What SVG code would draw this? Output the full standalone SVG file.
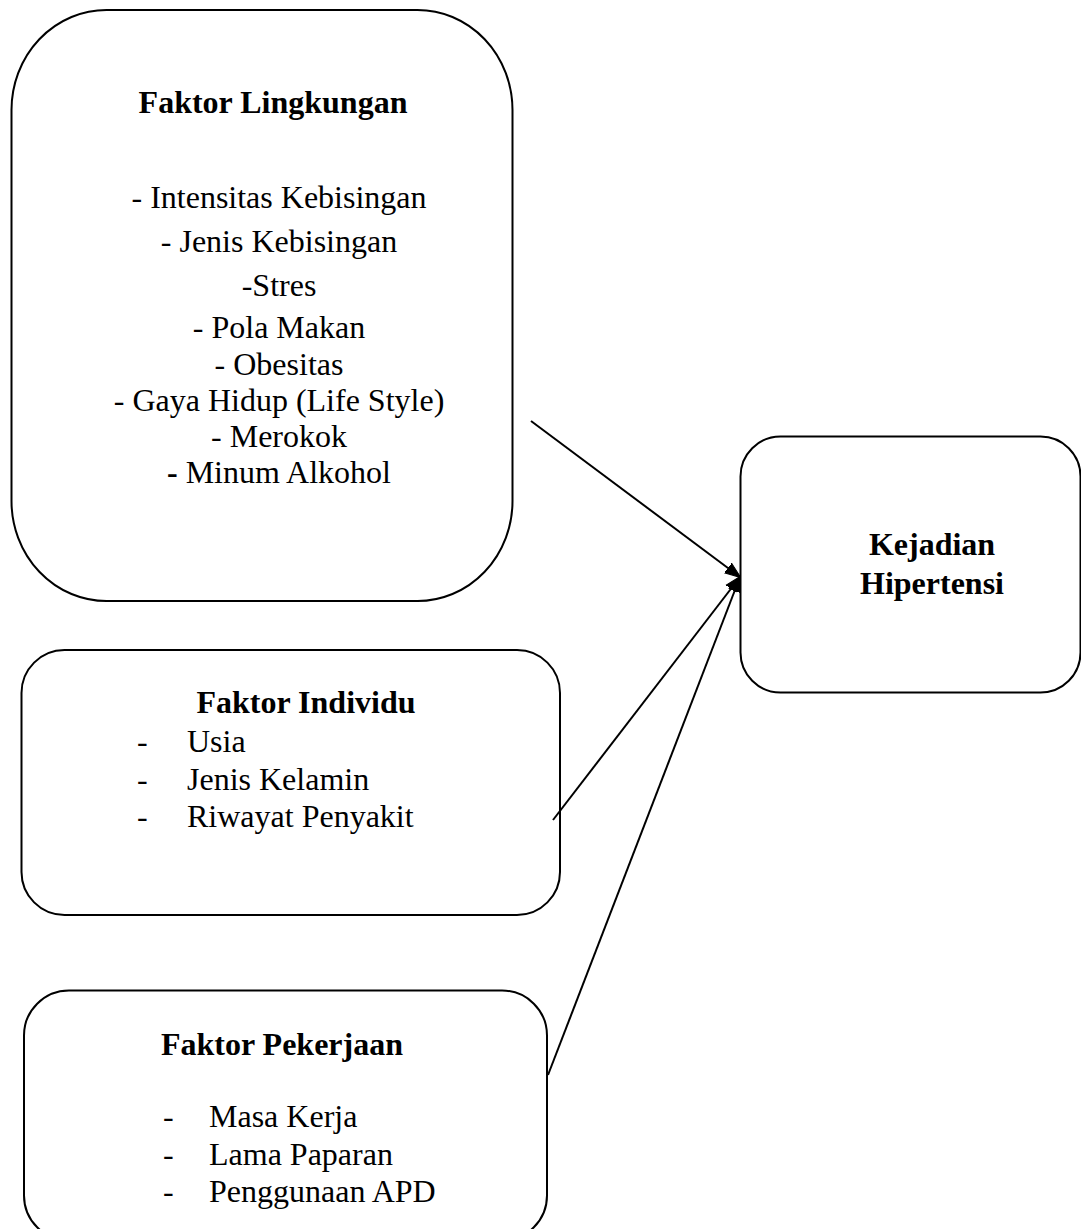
<svg xmlns="http://www.w3.org/2000/svg" width="1081" height="1229" viewBox="0 0 1081 1229">
<defs>
<style>
.box{fill:#fff;stroke:#000;stroke-width:2}
.t{font-family:"Liberation Serif","Times New Roman",serif;font-size:32px;fill:#000}
.b{font-weight:bold}
.c{text-anchor:middle}
.conn{stroke:#000;stroke-width:2;fill:none}
</style>
<marker id="ah" markerWidth="16" markerHeight="14" refX="15" refY="7" orient="auto" markerUnits="userSpaceOnUse">
<path d="M0,1 L16,7 L0,13 Z" fill="#000" stroke="#000" stroke-width="1"/>
</marker>
</defs>
<rect width="1081" height="1229" fill="#fff"/>
<g id="faktor-lingkungan">
<rect class="box" x="11.5" y="10" width="501" height="591" rx="95" ry="100"/>
<text class="t b c" x="273" y="113">Faktor Lingkungan</text>
<text class="t c" x="279" y="208">- Intensitas Kebisingan</text>
<text class="t c" x="279" y="252">- Jenis Kebisingan</text>
<text class="t c" x="279" y="296">-Stres</text>
<text class="t c" x="279" y="338">- Pola Makan</text>
<text class="t c" x="279" y="375">- Obesitas</text>
<text class="t c" x="279" y="411">- Gaya Hidup (Life Style)</text>
<text class="t c" x="279" y="447">- Merokok</text>
<text class="t c" x="279" y="483"><tspan class="b">-</tspan> Minum Alkohol</text>
</g>
<g id="faktor-individu">
<rect class="box" x="21.5" y="650" width="538.5" height="265" rx="43" ry="43"/>
<text class="t b c" x="306" y="713">Faktor Individu</text>
<text class="t" x="137" y="752">-</text>
<text class="t" x="187" y="752">Usia</text>
<text class="t" x="137" y="790">-</text>
<text class="t" x="187" y="790">Jenis Kelamin</text>
<text class="t" x="137" y="827">-</text>
<text class="t" x="187" y="827">Riwayat Penyakit</text>
</g>
<g id="faktor-pekerjaan">
<rect class="box" x="24" y="990.5" width="523" height="250" rx="45" ry="45"/>
<text class="t b c" x="282" y="1055">Faktor Pekerjaan</text>
<text class="t" x="163" y="1127">-</text>
<text class="t" x="209" y="1127">Masa Kerja</text>
<text class="t" x="163" y="1165">-</text>
<text class="t" x="209" y="1165">Lama Paparan</text>
<text class="t" x="163" y="1202">-</text>
<text class="t" x="209" y="1202">Penggunaan APD</text>
</g>
<g id="kejadian-hipertensi">
<rect class="box" x="740.5" y="436.5" width="340" height="256" rx="40" ry="40"/>
<text class="t b c" x="932" y="555">Kejadian</text>
<text class="t b c" x="932" y="594">Hipertensi</text>
</g>
<g id="connectors">
<line class="conn" x1="531" y1="421" x2="740" y2="577" marker-end="url(#ah)"/>
<line class="conn" x1="553" y1="820" x2="740" y2="577" marker-end="url(#ah)"/>
<line class="conn" x1="548" y1="1075" x2="740" y2="577" marker-end="url(#ah)"/>
</g>
</svg>
